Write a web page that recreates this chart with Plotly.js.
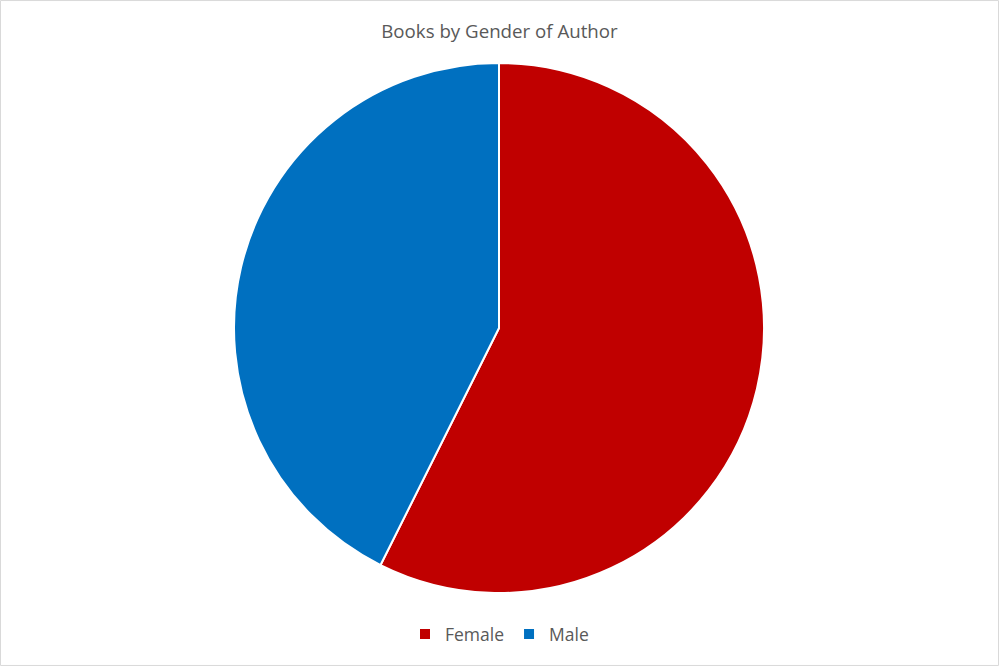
<!DOCTYPE html>
<html>
<head>
<meta charset="utf-8">
<script src="https://cdn.plot.ly/plotly-3.0.1.min.js"></script>
<style>
  html, body { margin: 0; padding: 0; background: #fff; }
  #chart { width: 999px; height: 666px; }
</style>
</head>
<body>
<div id="chart"></div>
<script>
// Books by gender of author
const genders = ['Female', 'Male'];
const bookCounts = [35, 26];
const sliceColors = ['#C00000', '#0070C0'];

const textColor = '#595959';

const trace = {
  type: 'pie',
  labels: genders,
  values: bookCounts,
  sort: false,
  direction: 'clockwise',
  rotation: 0,
  textinfo: 'none',
  hoverinfo: 'label+value+percent',
  marker: { colors: sliceColors, line: { color: '#ffffff', width: 2 } },
  domain: { x: [0.2342, 0.7648], y: [0.1096, 0.9054] },
};

const layout = {
  width: 999, height: 666,
  margin: { l: 0, r: 0, t: 0, b: 0 },
  paper_bgcolor: '#ffffff',
  font: { family: 'Open Sans, sans-serif', color: textColor },
  title: {
    text: 'Books by Gender of Author',
    font: { size: 18.7, color: textColor },
    x: 0.5, xanchor: 'center',
    y: 1 - 31 / 666, yanchor: 'middle',
  },
  showlegend: true,
  legend: {
    orientation: 'h',
    x: 0.5, xanchor: 'center',
    y: 1 - 634 / 666, yanchor: 'middle',
    font: { size: 17.5, color: textColor },
    itemwidth: 30,
  },
  shapes: [{
    type: 'rect', xref: 'paper', yref: 'paper',
    x0: 0.0005, x1: 0.9995, y0: 0.0008, y1: 0.9992,
    line: { color: '#d9d9d9', width: 1 },
  }],
};

Plotly.newPlot('chart', [trace], layout, { displayModeBar: false, staticPlot: true });
</script>
</body>
</html>
